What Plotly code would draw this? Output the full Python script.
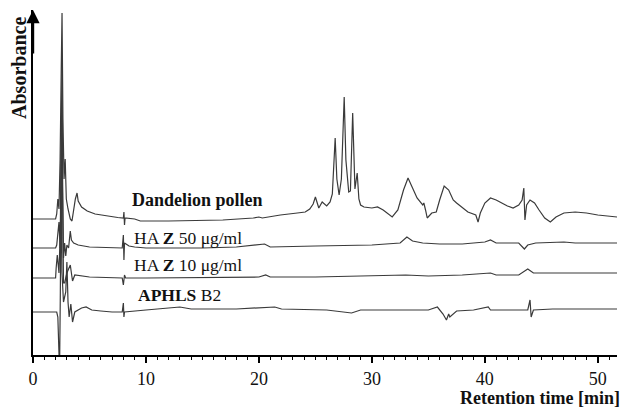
import plotly.graph_objects as go

# ---- data (retention time [min], signal relative to own baseline) ----
dand_t = [0, 2.0, 2.1, 2.2, 2.3, 2.4, 2.5, 2.57, 2.65, 2.75, 2.85, 2.95, 3.1, 3.3, 3.45, 3.6, 3.75, 3.9, 4.0,
          4.3, 4.8, 5.5, 6.5, 7.5, 8.0, 8.05, 8.1, 8.15, 9.0, 9.5, 12, 16.8, 19.5, 20.0, 20.3, 21.9, 23.4,
          24.1, 24.5, 24.8, 25.0, 25.3, 25.6, 26.0, 26.3, 26.5, 26.75, 26.9, 27.1, 27.3, 27.55, 27.7, 27.95,
          28.1, 28.3, 28.5, 28.7, 28.85, 29.0, 29.3, 30.0, 30.5, 31.0, 31.8, 32.3, 32.8, 33.2, 33.5, 34.0,
          34.5, 34.6, 34.75, 34.9, 35.3, 35.7, 36.0, 36.4, 36.8, 37.2, 37.5, 38.0, 38.5, 39.2, 39.4, 39.6,
          40.0, 40.5, 41.0, 41.5, 42.0, 42.5, 43.0, 43.3, 43.45, 43.55, 43.7, 44.0, 44.4, 44.8, 45.3, 45.8,
          46.3, 47.0, 48.0, 49.0, 50.0, 51.7]
dand_v = [0, 0, 5, 20, 10, 60, 150, 206, 100, 40, 60, 20, 10, 0, -2, 10, 20, 26, 18,
          12, 8, 5, 3, 1.5, 1, 7, -6, 1, 0, -2, -2, -1, 1, 2, 1, 4, 6,
          7, 10, 15, 22, 11, 17, 13, 17, 25, 81, 40, 24, 40, 122, 59, 27,
          28, 106, 30, 46, 20, 14, 12, 11, 12, 9, 2, 9, 29, 41, 34, 21,
          14, 16, 9, 1, 6, 7, 19, 33, 29, 19, 16, 11, 7, 4, -3, 6,
          16, 21, 19, 16, 13, 11, 14, 19, 31, -1, 14, 19, 16, 9, 1, -3,
          2, 6, 7, 6, 4, 2]

ha50_t = [0, 2.0, 2.1, 2.2, 2.3, 2.4, 2.5, 2.57, 2.62, 2.7, 2.8, 2.9, 3.0, 3.15, 3.3, 3.4, 3.6, 4.0, 5.0, 6.0,
          7.9, 8.0, 8.05, 8.1, 8.2, 8.5, 9.0, 10, 15, 18, 20.5, 21, 25, 28, 30, 32.5, 33.1, 33.6, 34.5, 36,
          38, 40.0, 40.5, 41, 43, 43.5, 43.8, 44.5, 46, 47, 48, 51.7]
ha50_v = [0, 0, 3, 15, 26, 0, 80, 188, 60, -10, 5, -8, 3, 0, 17, 8, 5, 3, 1, 0.5,
          0, 13, -12, 5, 4, 2, 1, 0, 0, 1, 4, 1, 2, 3, 3, 5, 11, 7, 5, 4,
          4, 6, 8, 5, 5, -1, 3, 5, 6, 6, 5, 5]

ha10_t = [0, 2.0, 2.05, 2.15, 2.3, 2.45, 2.55, 2.62, 2.7, 2.8, 3.0, 3.3, 3.5, 3.7, 4.2, 5, 7.9, 8.0, 8.1, 8.2,
          10, 20, 20.6, 21, 25, 30, 33, 35, 38, 40.5, 41, 43, 43.8, 44.3, 46, 48, 51.7]
ha10_v = [0, 0, 10, 23, 5, 60, 168, 30, -5, -5, 5, 13, -3, 3, 2, 1, 0, -7, 3, 0,
          0, 1, 3, 1, 1, 2, 3, 2, 3, 5, 3, 3, 9, 5, 5, 5, 5]

aphls_t = [0, 2.1, 2.2, 2.35, 2.42, 2.5, 2.56, 2.7, 2.9, 3.0, 3.1, 3.2, 3.35, 3.5, 3.7, 4.3, 4.7, 5.2, 6, 7,
           7.9, 8.0, 8.05, 8.1, 10, 13, 14, 18, 21.4, 22, 26, 28.2, 29, 32, 35, 35.8, 36.3, 36.6, 36.8, 36.9,
           37.5, 39, 40.3, 40.5, 43.8, 44.0, 44.1, 44.3, 46, 47.3, 51.7]
aphls_v = [0, 0, -5, -60, 20, 162, 40, 10, 20, 50, 10, -5, 8, -10, 0, 4, 5, 2, 1, 0,
           0, 9, -5, 0, 2, 5, 3, 3, 5, 3, 2, -1, 2, 2, 2, 5, -2, -8, -2, -5,
           1, 2, 5, 2, 2, 12, -5, 2, 3, 3, 3]

series_t = [dand_t, ha50_t, ha10_t, aphls_t]
series_v = [dand_v, ha50_v, ha10_v, aphls_v]
offsets = [136, 107, 77, 43]
labels = ["<b>Dandelion pollen</b>", "HA <b>Z</b> 50 μg/ml", "HA <b>Z</b> 10 μg/ml", "<b>APHLS</b> B2"]
label_x = [8.6, 8.75, 8.75, 9.1]
label_y = [155, 117, 90, 60]
label_size = [18, 17.5, 17.5, 17.5]

FONT = "Liberation Serif, Times New Roman, serif"

fig = go.Figure()
for t, v, off in zip(series_t, series_v, offsets):
    fig.add_trace(go.Scatter(x=t, y=[val + off for val in v], mode="lines",
                             line=dict(color="#3a3a3a", width=1.2), showlegend=False,
                             hoverinfo="skip"))

annotations = []
for txt, lx, ly, sz in zip(labels, label_x, label_y, label_size):
    annotations.append(dict(x=lx, y=ly, xref="x", yref="y", text=txt, showarrow=False,
                            xanchor="left", yanchor="middle",
                            font=dict(family=FONT, size=sz, color="#111")))
# y axis arrow
annotations.append(dict(x=0, y=345, xref="x", yref="y", ax=0, ay=300, axref="x", ayref="y",
                        text="", showarrow=True, arrowhead=2, arrowsize=1.1, arrowwidth=2.4,
                        arrowcolor="black"))
annotations.append(dict(x=-0.024, y=0.832, xref="paper", yref="paper", text="<b>Absorbance</b>",
                        textangle=-90, showarrow=False, xanchor="center", yanchor="middle",
                        font=dict(family=FONT, size=20, color="#111")))
annotations.append(dict(x=1.008, y=-0.125, xref="paper", yref="paper", text="<b>Retention time [min]</b>",
                        showarrow=False, xanchor="right", yanchor="middle",
                        font=dict(family=FONT, size=18, color="#111")))

fig.update_layout(
    width=631, height=412,
    margin=dict(l=33, r=14, t=10, b=57),
    paper_bgcolor="white", plot_bgcolor="white",
    annotations=annotations,
    xaxis=dict(range=[0, 51.7], showgrid=False, zeroline=False, showline=True, linecolor="black",
               linewidth=2, ticks="outside", ticklen=6, tickwidth=1.5, tickcolor="black",
               dtick=10, tick0=0,
               minor=dict(dtick=1, ticks="outside", ticklen=3, tickwidth=1, tickcolor="black"),
               tickfont=dict(family=FONT, size=18, color="#111")),
    yaxis=dict(range=[0, 345], showgrid=False, zeroline=False, showline=True, linecolor="black",
               linewidth=2.4, showticklabels=False, ticks=""),
)

fig.write_html("out.html")
